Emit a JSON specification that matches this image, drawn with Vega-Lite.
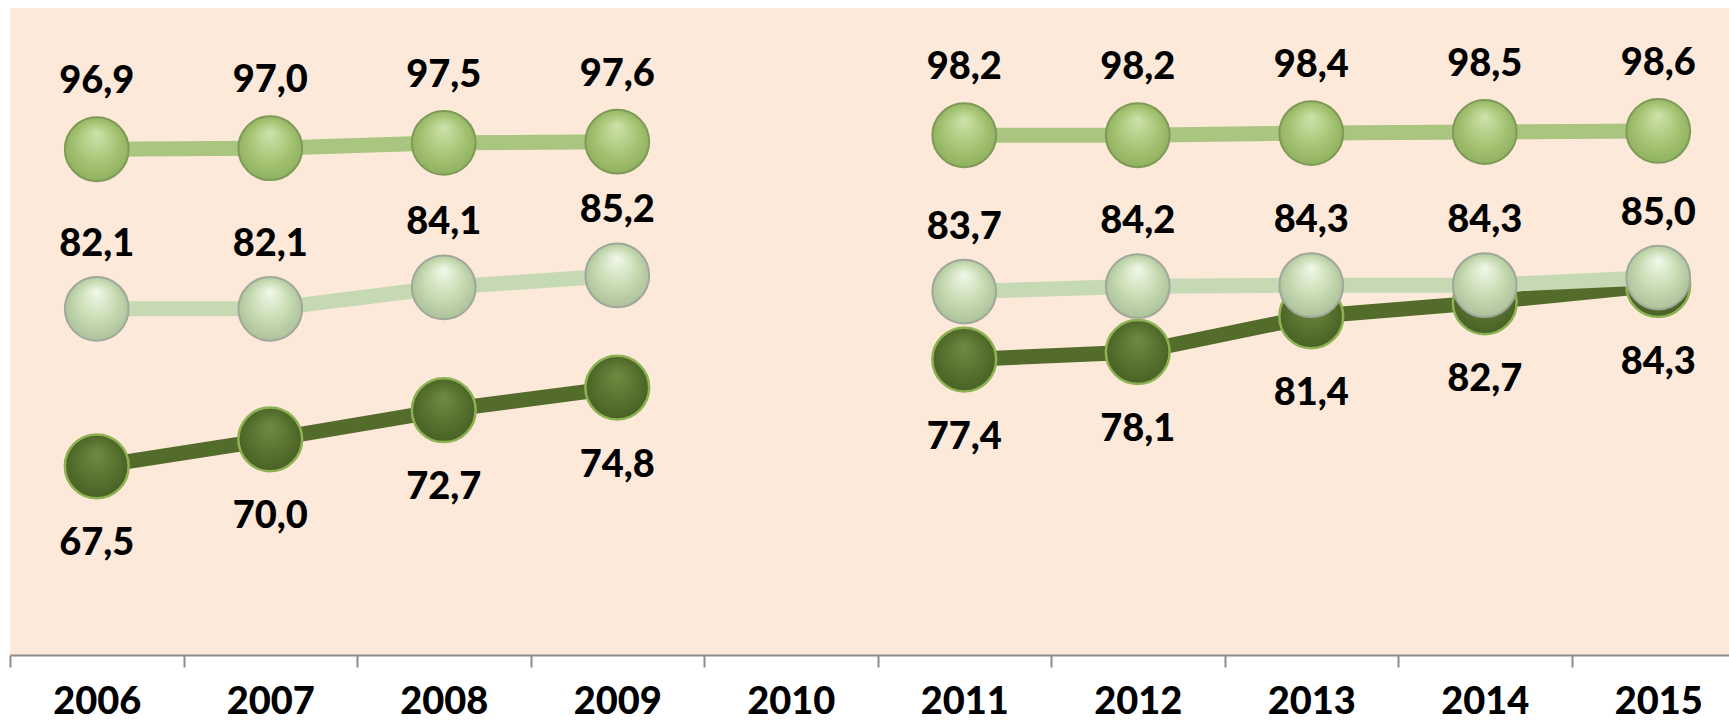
{
  "$schema": "https://vega.github.io/schema/vega-lite/v6.json",
  "width": 1735,
  "height": 647,
  "padding": {"left": 9, "top": 8, "right": 0, "bottom": 0},
  "background": "white",
  "config": {
    "view": {"fill": "#FDE9D9", "stroke": null},
    "locale": {"number": {"decimal": ",", "thousands": ".", "grouping": [3], "currency": ["", " €"]}},
    "axis": {"labelFont": "Lato", "labelFontWeight": 900, "labelFontSize": 38, "labelColor": "black"}
  },
  "data": {"values": [
    {"year": "2006", "series": "mid", "period": "a", "value": 96.9},
    {"year": "2007", "series": "mid", "period": "a", "value": 97.0},
    {"year": "2008", "series": "mid", "period": "a", "value": 97.5},
    {"year": "2009", "series": "mid", "period": "a", "value": 97.6},
    {"year": "2011", "series": "mid", "period": "b", "value": 98.2},
    {"year": "2012", "series": "mid", "period": "b", "value": 98.2},
    {"year": "2013", "series": "mid", "period": "b", "value": 98.4},
    {"year": "2014", "series": "mid", "period": "b", "value": 98.5},
    {"year": "2015", "series": "mid", "period": "b", "value": 98.6},
    {"year": "2006", "series": "light", "period": "a", "value": 82.1},
    {"year": "2007", "series": "light", "period": "a", "value": 82.1},
    {"year": "2008", "series": "light", "period": "a", "value": 84.1},
    {"year": "2009", "series": "light", "period": "a", "value": 85.2},
    {"year": "2011", "series": "light", "period": "b", "value": 83.7},
    {"year": "2012", "series": "light", "period": "b", "value": 84.2},
    {"year": "2013", "series": "light", "period": "b", "value": 84.3},
    {"year": "2014", "series": "light", "period": "b", "value": 84.3},
    {"year": "2015", "series": "light", "period": "b", "value": 85.0},
    {"year": "2006", "series": "dark", "period": "a", "value": 67.5},
    {"year": "2007", "series": "dark", "period": "a", "value": 70.0},
    {"year": "2008", "series": "dark", "period": "a", "value": 72.7},
    {"year": "2009", "series": "dark", "period": "a", "value": 74.8},
    {"year": "2011", "series": "dark", "period": "b", "value": 77.4},
    {"year": "2012", "series": "dark", "period": "b", "value": 78.1},
    {"year": "2013", "series": "dark", "period": "b", "value": 81.4},
    {"year": "2014", "series": "dark", "period": "b", "value": 82.7},
    {"year": "2015", "series": "dark", "period": "b", "value": 84.3}
  ]},
  "encoding": {
    "x": {
      "field": "year", "type": "ordinal", "title": null,
      "scale": {"domain": ["2006","2007","2008","2009","2010","2011","2012","2013","2014","2015"], "paddingInner": 0, "paddingOuter": 0},
      "axis": {"labelAngle": 0, "tickBand": "extent", "domainColor": "#8C8C8C", "domainWidth": 2, "tickColor": "#8C8C8C", "tickWidth": 2, "tickSize": 12, "labelPadding": 16}
    },
    "y": {
      "field": "value", "type": "quantitative", "title": null,
      "scale": {"domain": [50, 110], "nice": false, "zero": false},
      "axis": null
    }
  },
  "layer": [
    {"transform": [{"filter": "datum.series === 'dark'"}], "mark": {"type": "line", "color": "#536B2B", "strokeWidth": 15}, "encoding": {"detail": {"field": "period"}}},
    {"transform": [{"filter": "datum.series === 'dark'"}], "mark": {"type": "point", "filled": true, "size": 4070, "opacity": 1, "stroke": "#8DB252", "strokeWidth": 2.5,
      "fill": {"gradient": "radial", "x1": 0.5, "y1": 0.3, "r1": 0, "x2": 0.5, "y2": 0.5, "r2": 0.55, "stops": [{"offset": 0, "color": "#6F8B42"}, {"offset": 0.6, "color": "#56712F"}, {"offset": 1, "color": "#465E24"}]}}},
    {"transform": [{"filter": "datum.series === 'light'"}], "mark": {"type": "line", "color": "#C6D9B5", "strokeWidth": 15}, "encoding": {"detail": {"field": "period"}}},
    {"transform": [{"filter": "datum.series === 'light'"}], "mark": {"type": "point", "filled": true, "size": 4070, "opacity": 1, "stroke": "#9FA89A", "strokeWidth": 2,
      "fill": {"gradient": "radial", "x1": 0.5, "y1": 0.22, "r1": 0, "x2": 0.5, "y2": 0.5, "r2": 0.55, "stops": [{"offset": 0, "color": "#F2F8EA"}, {"offset": 0.55, "color": "#C8DCB3"}, {"offset": 1, "color": "#A9BE97"}]}}},
    {"transform": [{"filter": "datum.series === 'mid'"}], "mark": {"type": "line", "color": "#A9C57F", "strokeWidth": 15}, "encoding": {"detail": {"field": "period"}}},
    {"transform": [{"filter": "datum.series === 'mid'"}], "mark": {"type": "point", "filled": true, "size": 4070, "opacity": 1, "stroke": "#7D9B57", "strokeWidth": 2,
      "fill": {"gradient": "radial", "x1": 0.5, "y1": 0.25, "r1": 0, "x2": 0.5, "y2": 0.5, "r2": 0.55, "stops": [{"offset": 0, "color": "#CDE3AC"}, {"offset": 0.6, "color": "#A5C473"}, {"offset": 1, "color": "#8CAE5C"}]}}},
    {"transform": [{"filter": "datum.series === 'mid'"}], "mark": {"type": "text", "dy": -67, "font": "Lato", "fontWeight": 900, "fontSize": 38, "color": "black", "baseline": "middle"}, "encoding": {"text": {"field": "value", "type": "quantitative", "format": ".1f"}}},
    {"transform": [{"filter": "datum.series === 'light'"}], "mark": {"type": "text", "dy": -64, "font": "Lato", "fontWeight": 900, "fontSize": 38, "color": "black", "baseline": "middle"}, "encoding": {"text": {"field": "value", "type": "quantitative", "format": ".1f"}}},
    {"transform": [{"filter": "datum.series === 'dark'"}], "mark": {"type": "text", "dy": 78, "font": "Lato", "fontWeight": 900, "fontSize": 38, "color": "black", "baseline": "middle"}, "encoding": {"text": {"field": "value", "type": "quantitative", "format": ".1f"}}}
  ]
}
